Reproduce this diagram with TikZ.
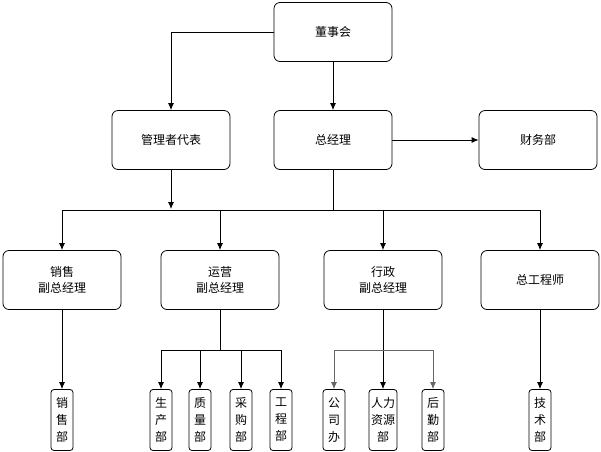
\documentclass[tikz,border=0pt]{standalone}
\usepackage{fontspec}
\usetikzlibrary{arrows.meta}
\newfontfamily\cjk{Noto Sans CJK SC}
\begin{document}
\begin{tikzpicture}[x=1pt,y=-1pt,
  box/.style={draw,rounded corners=6pt,line width=0.8pt,minimum width=118pt,minimum height=59pt,align=center,font=\cjk\fontsize{12}{16}\selectfont},
  sbox/.style={draw,rounded corners=3pt,line width=0.8pt,minimum width=22pt,minimum height=61pt,align=center,inner sep=1pt,font=\cjk\fontsize{12}{17}\selectfont},
  arr/.style={-{Latex[length=7pt,width=6pt]},line width=0.8pt},
  ln/.style={line width=0.8pt}]
\useasboundingbox (0,0) rectangle (601,451);
\node[box] (dsh) at (333,32) {董事会};
\node[box] (glz) at (171,140) {管理者代表};
\node[box] (zjl) at (333,140) {总经理};
\node[box] (cwb) at (538,140) {财务部};
\node[box] (xs) at (62,280) {销售\\副总经理};
\node[box] (yy) at (220,280) {运营\\副总经理};
\node[box] (xz) at (383,280) {行政\\副总经理};
\node[box] (gcs) at (540,280) {总工程师};
\node[sbox] (xsb) at (62,420) {销\\售\\部};
\node[sbox] (scb) at (161,420) {生\\产\\部};
\node[sbox] (zlb) at (200,420) {质\\量\\部};
\node[sbox] (cgb) at (241,420) {采\\购\\部};
\node[sbox] (gcb) at (281,420) {工\\程\\部};
\node[sbox] (gsb) at (334,420) {公\\司\\办};
\node[sbox,minimum width=28pt] (rlb) at (383,420) {人力\\资源\\部};
\node[sbox] (hqb) at (433,420) {后\\勤\\部};
\node[sbox] (jsb) at (540,420) {技\\术\\部};
\coordinate (h1) at (333,210);
\coordinate (h2) at (220,350);
\coordinate (h3) at (383,350);
\draw[arr] (dsh) -- (zjl);
\draw[arr] (dsh.west) -| (glz.north);
\draw[arr] (zjl) -- (cwb);
\draw[ln] (zjl.south) -- (h1);
\draw[arr] (glz.south) -- (171,209);
\foreach \n in {xs,yy,xz,gcs} \draw[arr] (h1) -| (\n.north);
\draw[arr] (xs) -- (xsb);
\draw[arr] (gcs) -- (jsb);
\draw[ln] (yy.south) -- (h2);
\foreach \n in {scb,zlb,cgb,gcb} \draw[arr] (h2) -| (\n.north);
\draw[arr] (xz) -- (rlb);
\foreach \n in {gsb,hqb} \draw[arr,draw=black!60] (h3) -| (\n.north);
\end{tikzpicture}
\end{document}
